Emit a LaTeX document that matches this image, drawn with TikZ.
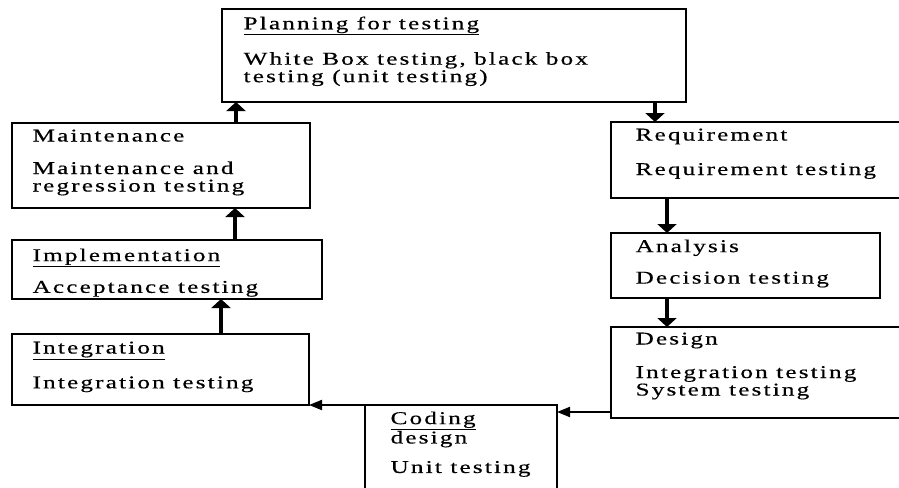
\documentclass[tikz,border=0pt]{standalone}
\usepackage{fontspec}
\newfontfamily\boxfont[LetterSpace=12,FakeStretch=1.4,FakeBold=0.5]{Liberation Serif}
\usetikzlibrary{arrows.meta}

\begin{document}
\begin{tikzpicture}[x=1pt,y=-1pt,line width=1.2pt,
  box/.style={draw,anchor=north west,inner sep=0pt,outer sep=0pt},
  txt/.style={anchor=north west,inner sep=0pt,align=left,font=\boxfont\fontsize{18}{17.5}\selectfont},
  up/.style={line width=4pt,-{Triangle[width=19pt,length=9pt]}},
  back/.style={line width=2pt,-{Triangle[width=10pt,length=13pt]}}]
\clip (0,0) rectangle (899,487);
% boxes
\node[box,minimum width=464pt,minimum height=93pt] (plan) at (222,9) {};
\node[box,minimum width=298pt,minimum height=85pt] (maint) at (12,123) {};
\node[box,minimum width=310pt,minimum height=59pt] (impl) at (12,240) {};
\node[box,minimum width=297pt,minimum height=71pt] (integ) at (12,334) {};
\node[box,minimum width=294pt,minimum height=76pt] (req) at (611,122) {};
\node[box,minimum width=269pt,minimum height=65pt] (anal) at (611,233) {};
\node[box,minimum width=294pt,minimum height=91pt] (des) at (611,327) {};
\node[box,minimum width=192pt,minimum height=90pt] (code) at (365,405) {};
% texts
\node[txt] (plan-t) at (243,16) {\underline{Planning for testing}\\[16pt]White Box testing, black box\\testing (unit testing)};
\node[txt] (maint-t) at (32,129) {Maintenance\\[15pt]Maintenance and\\regression testing};
\node[txt] (impl-t) at (32,248) {\underline{Implementation}\\[13pt]Acceptance testing};
\node[txt] (integ-t) at (32,341) {\underline{Integration}\\[16pt]Integration testing};
\node[txt] (req-t) at (635,128) {Requirement\\[17pt]Requirement testing};
\node[txt] (anal-t) at (635,239) {Analysis\\[14pt]Decision testing};
\node[txt] (des-t) at (635,332) {Design\\[16pt]Integration testing\\System testing};
\node[txt] (code-t) at (390,411) {\underline{Coding}\\design\\[12pt]Unit testing};
% arrows
\draw[up] (236,0 |- maint.north) -- (236,0 |- plan.south);
\draw[up] (235,0 |- impl.north) -- (235,0 |- maint.south);
\draw[up] (221,0 |- integ.north) -- (221,0 |- impl.south);
\draw[up] (655,0 |- plan.south) -- (655,0 |- req.north);
\draw[up] (667,0 |- req.south) -- (667,0 |- anal.north);
\draw[up] (667,0 |- anal.south) -- (667,0 |- des.north);
\draw[back] (des.west |- 0,412) -- (code.east |- 0,412);
\draw[back] (code.north west) -- (integ.south east);
\end{tikzpicture}
\end{document}
